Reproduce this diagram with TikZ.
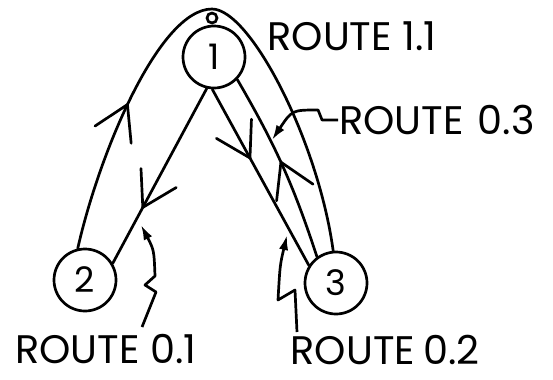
\documentclass[tikz,border=0pt]{standalone}
\usepackage{fontspec}
\setmainfont{Poppins}
\usetikzlibrary{arrows.meta,decorations.markings}

\begin{document}
\begin{tikzpicture}[
  x=0.03cm,y=-0.03cm,
  line width=2.3pt,
  stn/.style={draw,circle,minimum size=1.86cm,inner sep=0pt,font=\fontsize{30}{32}\selectfont},
  lbl/.style={font=\fontsize{34}{38}\selectfont,inner sep=0pt},
  route/.style={line cap=round},
  barb/.style={postaction={decorate},decoration={markings,
    mark=at position #1 with {\draw[line cap=round,line join=round] (-1.0cm,0.6cm) -- (0,0) -- (-1.0cm,-0.6cm);}}},
  ptr/.style={-{Latex[length=0.45cm,width=0.28cm]},line join=round}
]
  \useasboundingbox (0,0) rectangle (553,379);
  \node[stn] (n1) at (214,57) {1};
  \node[stn] (n2) at (85,280) {2};
  \node[stn] (n3) at (336,283) {3};
  \node[draw,circle,minimum size=0.3cm,inner sep=0pt] (loop) at (212,18) {};

  % routes between stations
  \draw[route,barb=0.27] (n2.103) .. controls (100,150) and (160,9) .. (212,9)
    .. controls (250,9) and (318,140) .. (n3.95);
  \draw[route,barb=0.68] (n1.257) -- (n2.31);
  \draw[route,barb=0.39] (n1.267) -- (n3.147);
  \draw[route,barb=0.52] (n3.126) to[bend right=6] (n1.316);

  % labels
  \node[lbl] (r11) at (352,36) {ROUTE 1.1};
  \node[lbl] (r03) at (437,120) {ROUTE\hspace{0.35em}0.3};
  \node[lbl] (r01) at (106,349) {ROUTE 0.1};
  \node[lbl] (r02) at (385,350) {ROUTE\hspace{0.2em}0.2};

  % pointers
  \draw[ptr] (r03.west) -- ++(-16,0) -- ++(-4,-10) .. controls (292,110) .. (272,140);
  \draw[ptr] (142,327) -- (156,292) -- (145,285) -- (155,276) .. controls (154,250) .. (141,225);
  \draw[ptr] (297,332) -- (295,290) -- (278,300) .. controls (280,265) .. (287,235);
\end{tikzpicture}
\end{document}
